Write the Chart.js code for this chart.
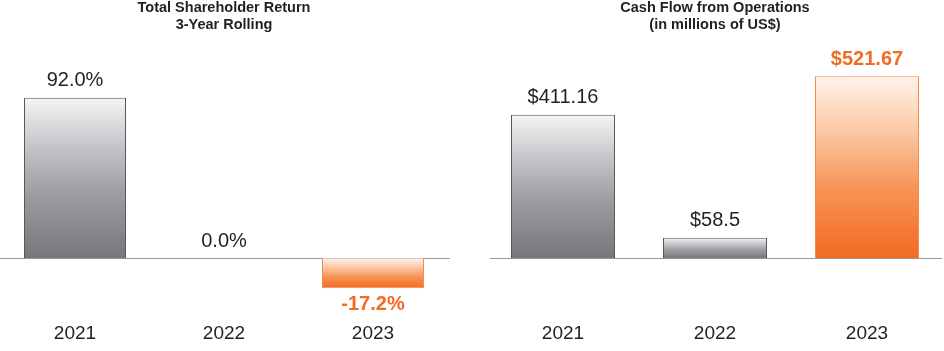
<!DOCTYPE html>
<html><head><meta charset="utf-8">
<script src="https://cdn.jsdelivr.net/npm/chart.js@4/dist/chart.umd.min.js"></script>
<style>
html,body{margin:0;padding:0;background:#fff;width:944px;height:351px;overflow:hidden}
canvas{position:absolute;top:0}
#c1{left:0}
#c2{left:480px}
</style></head><body>
<canvas id="c1" width="470" height="351"></canvas>
<canvas id="c2" width="464" height="351"></canvas>
<script>
const years = ['2021', '2022', '2023'];
const tsrValues = [92.0, 0.0, -17.2];
const tsrLabels = ['92.0%', '0.0%', '-17.2%'];
const cfoValues = [411.16, 58.5, 521.67];
const cfoLabels = ['$411.16', '$58.5', '$521.67'];
const highlighted = [false, false, true];
const tsrTitle = ['Total Shareholder Return', '3-Year Rolling'];
const cfoTitle = ['Cash Flow from Operations', '(in millions of US$)'];

const FONT = '"Liberation Sans", Arial, Helvetica, sans-serif';
const DARK = '#231f20';
const ORANGE = '#f26b21';

function barFill(ctx) {
  const chart = ctx.chart;
  const i = ctx.dataIndex;
  const hi = highlighted[i];
  const y = chart.scales && chart.scales.y;
  const fallback = hi ? ORANGE : '#8a8b8d';
  if (!chart.chartArea || !y || ctx.type !== 'data') return fallback;
  const v = ctx.raw;
  const top = y.getPixelForValue(Math.max(v, 0));
  const bot = y.getPixelForValue(Math.min(v, 0));
  if (!isFinite(top) || !isFinite(bot) || bot - top < 1) return fallback;
  const g = chart.ctx.createLinearGradient(0, top, 0, bot);
  if (hi) {
    g.addColorStop(0, '#fff3ea');
    g.addColorStop(0.3, '#fcc8a6');
    g.addColorStop(0.6, '#f79659');
    g.addColorStop(1, '#f26a21');
  } else {
    g.addColorStop(0, '#f5f5f7');
    g.addColorStop(0.3, '#c4c5c8');
    g.addColorStop(0.6, '#9c9da1');
    g.addColorStop(1, '#76777b');
  }
  return g;
}

const baseLine = {
  id: 'baseLine',
  beforeDatasetsDraw(chart, args, opts) {
    const y0 = Math.round(chart.scales.y.getPixelForValue(0)) + 0.5;
    const a = chart.chartArea;
    const c = chart.ctx;
    c.save();
    c.strokeStyle = '#9a9a9a';
    c.lineWidth = 1;
    c.beginPath();
    c.moveTo(a.left + (opts.insetL || 0), y0);
    c.lineTo(a.right - (opts.insetR || 0), y0);
    c.stroke();
    c.restore();
  }
};

const valueLabels = {
  id: 'valueLabels',
  afterDatasetsDraw(chart, args, opts) {
    const meta = chart.getDatasetMeta(0);
    const c = chart.ctx;
    const data = chart.data.datasets[0].data;
    meta.data.forEach((bar, i) => {
      const v = data[i];
      const hi = highlighted[i];
      c.save();
      c.font = (hi ? 'bold ' : '') + '20px ' + FONT;
      c.fillStyle = hi ? ORANGE : DARK;
      c.textAlign = 'center';
      c.textBaseline = 'middle';
      const y = v < 0 ? bar.y + 16 : bar.y - 17;
      c.fillText(opts.labels[i], bar.x, y);
      c.restore();
    });
  }
};

function makeChart(id, values, labels, title, yMin, yMax, pad, insetL, insetR, barPct) {
  return new Chart(document.getElementById(id), {
    type: 'bar',
    data: {
      labels: years,
      datasets: [{
        data: values,
        backgroundColor: barFill,
        borderColor: (ctx) => highlighted[ctx.dataIndex] ? '#f58a4c' : '#58595b',
        borderWidth: (ctx) => (ctx.raw === 0 ? 0 : 1),
        borderSkipped: 'start',
        categoryPercentage: 1,
        barPercentage: barPct
      }]
    },
    options: {
      responsive: false,
      devicePixelRatio: 1,
      animation: false,
      events: [],
      layout: { padding: pad },
      plugins: {
        legend: { display: false },
        tooltip: { enabled: false },
        title: {
          display: true,
          text: title,
          color: DARK,
          font: { family: FONT, size: 14.5, weight: 'bold', lineHeight: 1.1586 },
          padding: { top: 0, bottom: 6.4 }
        },
        valueLabels: { labels: labels },
        baseLine: { insetL: insetL, insetR: insetR }
      },
      scales: {
        x: {
          grid: { display: false, drawTicks: false },
          border: { display: false },
          ticks: { color: DARK, font: { family: FONT, size: 19 }, padding: 3.5 }
        },
        y: {
          display: false,
          min: yMin,
          max: yMax
        }
      }
    },
    plugins: [baseLine, valueLabels]
  });
}

makeChart('c1', tsrValues, tsrLabels, tsrTitle, -34.63, 125.14,
  { left: 0.5, right: 22.5, top: 0, bottom: 2.6 }, -0.5, -2.5, 102 / 149);
makeChart('c2', cfoValues, cfoLabels, cfoTitle, -173.1, 625.7,
  { left: 7, right: 1, top: 0, bottom: 2.6 }, 3, 1, 104 / 152);
</script>
</body></html>
